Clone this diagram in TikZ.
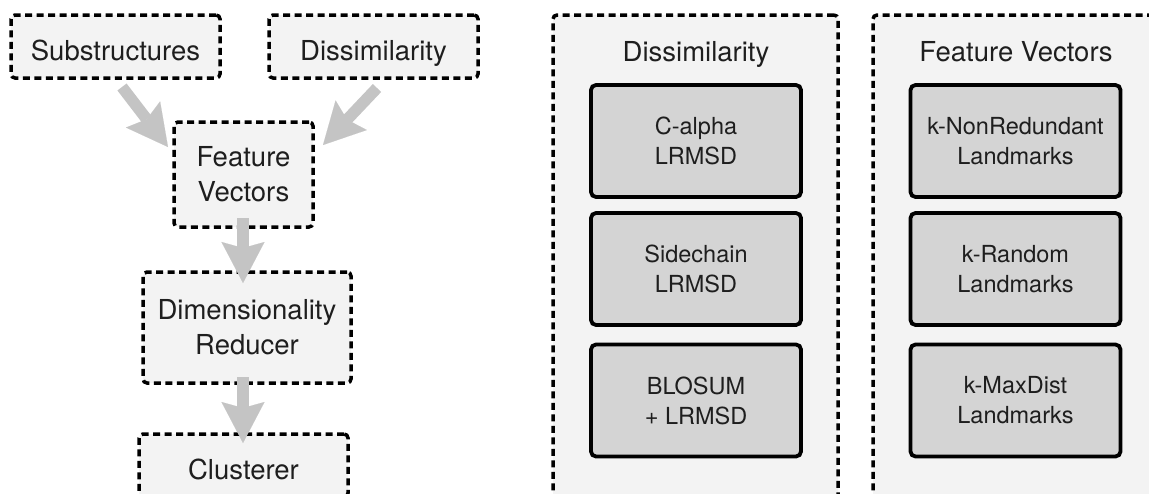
\documentclass[tikz,border=0pt]{standalone}
\usepackage{fontspec}
\setmainfont{TeX Gyre Heros}
\usetikzlibrary{arrows.meta}
\definecolor{boxfill}{HTML}{F3F3F3}
\definecolor{innerfill}{HTML}{D4D4D4}
\definecolor{arrowgray}{HTML}{C4C4C4}
\definecolor{txtcol}{HTML}{1E1E1E}
\newcommand\bigtxt{\fontsize{27.5}{35}\selectfont}
\newcommand\smalltxt{\fontsize{23.5}{30}\selectfont}
\begin{document}
\begin{tikzpicture}[x=1pt,y=-1pt,
  dashbox/.style={draw=black, line width=3.5pt, dash pattern=on 7pt off 4.5pt,
    fill=boxfill, rounded corners=4pt, inner sep=0pt, align=center,
    text=txtcol, font=\bigtxt},
  oneline/.style={text height=27pt, text depth=0pt},
  panel/.style={draw=black, line width=3.5pt, dash pattern=on 7pt off 4.5pt,
    fill=boxfill, rounded corners=4pt, inner sep=0pt,
    minimum width=285pt, minimum height=560pt},
  title/.style={anchor=base, inner sep=0pt, text=txtcol, font=\bigtxt},
  innerbox/.style={draw=black, line width=3.8pt, fill=innerfill,
    rounded corners=5pt, inner sep=0pt, align=center, text=txtcol,
    font=\smalltxt, minimum width=210pt, minimum height=112pt},
  garrow/.style={draw=arrowgray, line width=11.5pt,
    -{Stealth[length=41pt, width=43pt, inset=6pt, line width=0.1pt]}}
]
\clip (0,0) rectangle (1149,493);
\fill[white] (0,0) rectangle (1149,493);

% left column
\node[dashbox, oneline, minimum width=209pt, minimum height=63pt] (sub) at (115.5,46.5) {Substructures};
\node[dashbox, oneline, minimum width=209pt, minimum height=63pt] (dis) at (373.5,46.5) {Dissimilarity};
\node[dashbox, minimum width=139pt, minimum height=105pt] (fv) at (243.5,174.5) {Feature\\Vectors};
\node[dashbox, minimum width=208pt, minimum height=111pt] (dr) at (247,327.5) {Dimensionality\\Reducer};
\node[dashbox, oneline, minimum width=209pt, minimum height=63pt] (cl) at (243.5,465.5) {Clusterer};

% arrows
\coordinate (a1s) at (122,87);  \coordinate (a1e) at (168,147);
\coordinate (a2s) at (377,88);  \coordinate (a2e) at (323,145);
\coordinate (a3s) at (243,218); \coordinate (a3e) at (243,283);
\coordinate (a4s) at (243,377); \coordinate (a4e) at (243,443);
\draw[garrow] (a1s) -- (a1e);
\draw[garrow] (a2s) -- (a2e);
\draw[garrow] (a3s) -- (a3e);
\draw[garrow] (a4s) -- (a4e);

% right panels
\node[panel] (pdis) at (695.5,295) {};
\node[title] (tdis) at (696,61) {Dissimilarity};
\node[innerbox] (ca) at (696,141) {C-alpha\\LRMSD};
\node[innerbox] (sc) at (696,269) {Sidechain\\LRMSD};
\node[innerbox] (bl) at (696,400.5) {BLOSUM\\+ LRMSD};

\node[panel] (pfv) at (1015.5,295) {};
\node[title] (tfv) at (1016,61) {Feature Vectors};
\node[innerbox] (knr) at (1015.5,141) {k-NonRedundant\\Landmarks};
\node[innerbox] (kr) at (1015.5,269) {k-Random\\Landmarks};
\node[innerbox] (km) at (1015.5,400.5) {k-MaxDist\\Landmarks};
\end{tikzpicture}
\end{document}
